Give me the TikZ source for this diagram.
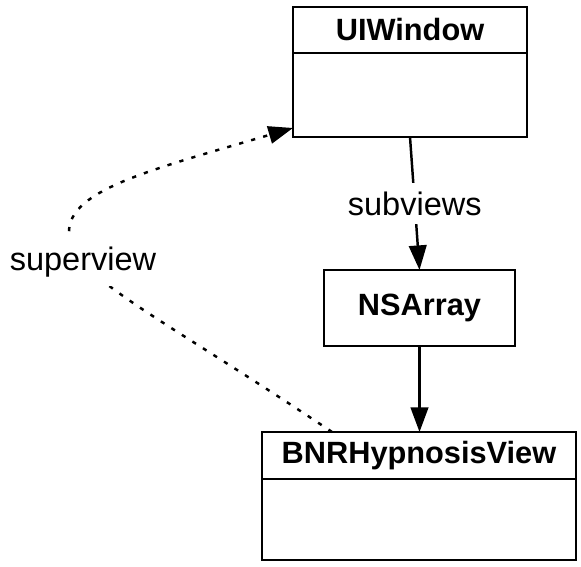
\documentclass[tikz,border=0pt]{standalone}
\usepackage{fontspec}
\setmainfont{Liberation Sans}
\usetikzlibrary{arrows.meta,positioning,calc}

\begin{document}
\begin{tikzpicture}[x=0.02cm, y=-0.02cm,
    classhead/.style={draw, line width=1.4pt, outer sep=0pt, font=\fontsize{17.5}{20}\selectfont\bfseries},
    classbody/.style={draw, line width=1.4pt, outer sep=0pt},
    link/.style={-{Triangle[length=14pt,width=10pt]}, line width=1.4pt},
    superlink/.style={link, dash pattern=on 2.4pt off 4.7pt},
    tag/.style={fill=white, inner sep=5pt, font=\fontsize{18.5}{22}\selectfont}]
    \useasboundingbox (0,0) rectangle (581,567);

    % UIWindow
    \node[classhead, minimum width=4.68cm, minimum height=0.92cm] (uiwindow) at (410,30) {UIWindow};
    \node[classbody, minimum width=4.68cm, minimum height=1.68cm, below=0pt of uiwindow] (uiwindowbody) {};

    % NSArray
    \node[classhead, minimum width=3.82cm, minimum height=1.52cm] (nsarray) at (419.5,308) {NSArray};

    % BNRHypnosisView
    \node[classhead, minimum width=6.28cm, minimum height=0.94cm] (hypnosis) at (419,455.5) {BNRHypnosisView};
    \node[classbody, minimum width=6.28cm, minimum height=1.62cm, below=0pt of hypnosis] (hypnosisbody) {};

    % subviews
    \draw[link] (uiwindowbody.south) -- node[tag] (subviewslabel) {subviews} (nsarray.north);
    \draw[link] (nsarray.south) -- (nsarray.south |- hypnosis.north);

    % superview
    \coordinate (turn) at (69,232);
    \draw[superlink] ($(hypnosis.north west)+(70,0)$) .. controls (150,310) and (69,275) .. (turn)
        .. controls (69,190) and (150,170) .. ($(uiwindowbody.south west)+(0,-9)$);
    \node[tag] (superlabel) at (83,262) {superview};
\end{tikzpicture}
\end{document}
